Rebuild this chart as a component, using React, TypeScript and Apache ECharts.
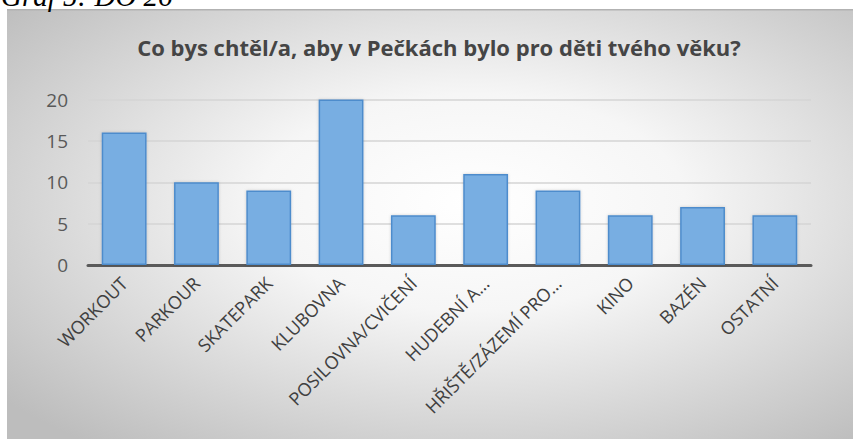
import React, { useEffect, useRef } from "react";
import * as echarts from "echarts";

const caption = "Graf 5: DO 26";
const chartTitle = "Co bys chtěl/a, aby v Pečkách bylo pro děti tvého věku?";
const categories = [
  "WORKOUT",
  "PARKOUR",
  "SKATEPARK",
  "KLUBOVNA",
  "POSILOVNA/CVIČENÍ",
  "HUDEBNÍ A…",
  "HŘIŠTĚ/ZÁZEMÍ PRO…",
  "KINO",
  "BAZÉN",
  "OSTATNÍ",
];
const values = [16, 10, 9, 20, 6, 11, 9, 6, 7, 6];
const yTicks = [0, 5, 10, 15, 20];

export default function App() {
  const ref = useRef<HTMLDivElement>(null);
  useEffect(() => {
    if (!ref.current) return;
    const chart = echarts.init(ref.current, undefined, { renderer: "svg" });
    chart.setOption({
      animation: false,
      backgroundColor: "#ffffff",
      graphic: [
        {
          type: "rect",
          z: -10,
          silent: true,
          shape: { x: 7, y: 9, width: 846, height: 430 },
          style: {
            fill: {
              type: "radial",
              x: 0.55,
              y: 0.45,
              r: 0.72,
              colorStops: [
                { offset: 0, color: "#ffffff" },
                { offset: 0.35, color: "#f6f6f6" },
                { offset: 1, color: "#bdbdbd" },
              ],
            },
            lineWidth: 0,
          },
        },
        {
          type: "rect",
          z: -9,
          silent: true,
          shape: { x: 7, y: 9, width: 846, height: 1.5 },
          style: { fill: "#b2b2b2" },
        },
        {
          type: "text",
          z: 10,
          x: 1,
          y: 10,
          style: {
            text: caption,
            font: "italic 29px 'Liberation Serif', 'Times New Roman', serif",
            fill: "#000000",
            verticalAlign: "bottom",
          },
        },
      ],
      title: {
        text: chartTitle,
        left: 434,
        top: 31,
        textAlign: "center",
        textStyle: {
          fontFamily: "'Open Sans', sans-serif",
          fontSize: 22,
          fontWeight: "bold",
          color: "#454545",
        },
      },
      grid: {
        left: 88,
        right: 42,
        top: 99.5,
        bottom: 439 - 265,
        containLabel: false,
      },
      xAxis: {
        type: "category",
        data: categories,
        axisLine: { show: true, lineStyle: { color: "#5a5a5a", width: 3 } },
        axisTick: { show: false },
        axisLabel: {
          interval: 0,
          rotate: 45,
          margin: 15,
          fontFamily: "'Open Sans', sans-serif",
          fontSize: 18,
          color: "#404040",
        },
      },
      yAxis: {
        type: "value",
        min: yTicks[0],
        max: yTicks[yTicks.length - 1],
        interval: 5,
        axisLine: { show: false },
        axisTick: { show: false },
        splitLine: { lineStyle: { color: "#d5d5d5", width: 1.5 } },
        axisLabel: {
          margin: 20,
          fontFamily: "'Open Sans', sans-serif",
          fontSize: 19,
          color: "#595959",
        },
      },
      series: [
        {
          type: "bar",
          data: values,
          barWidth: "62%",
          itemStyle: {
            color: "#78aee2",
            borderColor: "#4e8ccc",
            borderWidth: 1.5,
            shadowBlur: 3,
            shadowColor: "rgba(0,0,0,0.18)",
          },
        },
      ],
    });
    return () => chart.dispose();
  }, []);
  return (
    <div
      ref={ref}
      style={{ position: "fixed", left: 0, top: 0, width: 853, height: 439 }}
    />
  );
}
